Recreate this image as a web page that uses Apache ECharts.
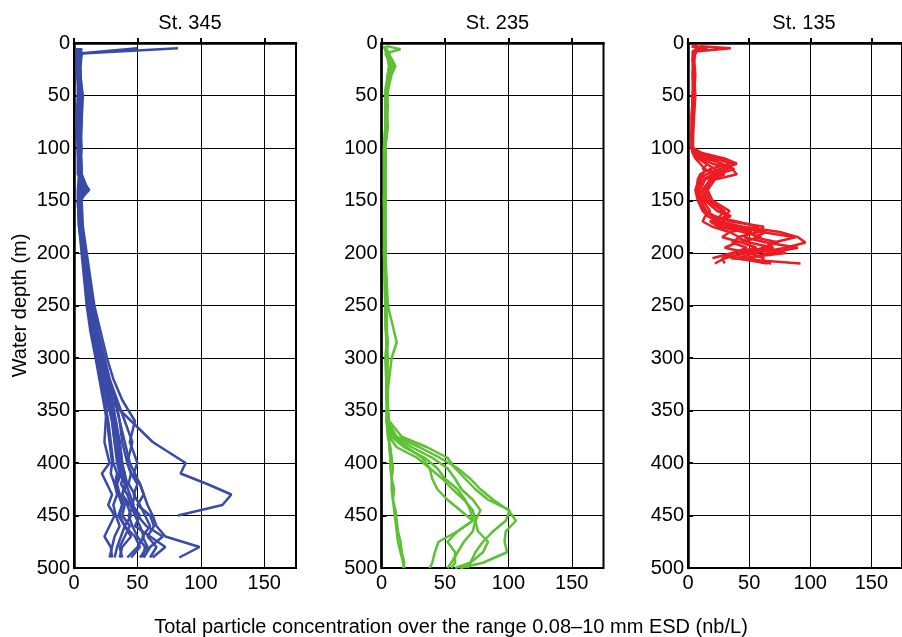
<!DOCTYPE html>
<html>
<head>
<meta charset="utf-8">
<script src="https://cdn.jsdelivr.net/npm/echarts@6/dist/echarts.min.js"></script>
<style>
  html, body { margin: 0; padding: 0; background: #fff; }
  #chart { width: 902px; height: 637px; }
</style>
</head>
<body>
<div id="chart"></div>
<script>
// station names and colours
const stations = ['St. 345', 'St. 235', 'St. 135'];
const lineColors = ['#3a4ba7', '#5cc133', '#ec1c24'];

// St. 345 depth levels (m) and profiles (nb/L)
const depth345 = [5, 10, 25, 50, 75, 100, 125, 140, 150, 175, 200, 225, 250, 275, 300, 320, 340, 360, 380, 400, 410, 420, 430, 440, 450, 460, 470, 480, 490];
const st345 = [
  [82, 6, 5, 6, 4, 5, 6, 5, 4, 6, 8, 11, 13, 16, 21, 25, 29, 33, 36, 38, 36, 40, 38, 42, 45, 40, 48, 52, 45],
  [50, 4, 4, 5, 5, 4, 5, 4, 4, 5, 7, 9, 11, 14, 18, 22, 26, 30, 32, 35, 37, 34, 36, 40, 38, 44, 40, 36, 38],
  [5, 4, 3, 4, 5, 4, 4, 6, 5, 6, 8, 10, 13, 16, 20, 24, 28, 45, 62, 88, 84, 105, 124, 117, 82],
  [4, 3, 3, 5, 4, 5, 5, 6, 4, 5, 9, 11, 14, 18, 23, 27, 32, 36, 40, 44, 48, 52, 55, 58, 62, 65, 72, 99, 83],
  [3, 3, 2, 4, 3, 3, 4, 3, 3, 4, 6, 8, 10, 13, 17, 20, 23, 26, 28, 30, 29, 32, 34, 31, 33, 36, 32, 30, 28],
  [6, 5, 4, 7, 6, 5, 6, 10, 5, 6, 9, 12, 15, 19, 24, 28, 34, 40, 46, 42, 45, 50, 47, 52, 56, 60, 54, 58, 52],
  [2, 2, 3, 3, 2, 3, 3, 12, 4, 4, 7, 9, 11, 14, 18, 21, 24, 27, 29, 31, 34, 32, 36, 38, 35, 40, 45, 38, 36],
  [4, 4, 5, 6, 5, 6, 5, 8, 6, 7, 10, 13, 16, 21, 26, 31, 38, 48, 44, 50, 47, 52, 55, 50, 60, 63, 58, 65, 60],
  [3, 4, 3, 4, 4, 3, 4, 5, 3, 4, 7, 9, 12, 15, 19, 22, 26, 25, 24, 28, 22, 26, 30, 27, 32, 28, 24, 29, 30],
  [5, 4, 4, 5, 6, 5, 6, 11, 5, 6, 8, 10, 13, 17, 22, 26, 30, 32, 36, 38, 40, 37, 42, 45, 48, 52, 55, 50, 42],
  [4, 5, 4, 6, 5, 4, 5, 6, 5, 5, 8, 11, 14, 18, 22, 26, 30, 33, 35, 37, 40, 42, 38, 44, 50, 57, 70, 60, 55],
  [3, 3, 4, 5, 3, 4, 4, 4, 4, 5, 8, 10, 12, 15, 20, 24, 28, 31, 34, 36, 38, 41, 44, 47, 43, 46, 50, 56, 54],
  [5, 6, 4, 5, 4, 5, 6, 5, 5, 6, 9, 12, 15, 19, 24, 28, 33, 36, 38, 42, 45, 43, 48, 46, 52, 48, 60, 72, 62],
  [4, 3, 4, 6, 4, 5, 5, 7, 4, 5, 8, 10, 13, 16, 20, 23, 27, 30, 32, 34, 36, 33, 35, 38, 36, 40, 37, 34, 32]
];

// St. 235
const depth235 = [3, 6, 10, 15, 22, 30, 45, 60, 80, 100, 150, 200, 250, 270, 285, 300, 330, 360, 375, 385, 395, 405, 415, 425, 435, 445, 455, 465, 475, 485, 495, 500];
const st235 = [
  [4, 15, 3, 5, 9, 6, 4, 5, 4, 3, 2, 2, 3, 4, 4, 3, 4, 5, 6, 6, 7, 7, 8, 8, 9, 10, 11, 12, 13, 15, 17, 18],
  [2, 3, 5, 8, 11, 8, 5, 4, 5, 3, 3, 3, 5, 9, 12, 8, 5, 4, 5, 7, 8, 9, 8, 10, 9, 11, 12, 13, 15, 16, 18, 17],
  [3, 4, 6, 7, 8, 6, 4, 3, 4, 3, 2, 3, 4, 4, 4, 5, 4, 5, 8, 20, 32, 38, 40, 44, 52, 62, 72, 60, 45, 42, 40, 38],
  [2, 3, 4, 6, 7, 5, 3, 3, 3, 2, 2, 3, 3, 3, 4, 4, 4, 4, 6, 12, 28, 38, 48, 56, 65, 72, 74, 72, 65, 60, 55, 52],
  [3, 3, 5, 6, 8, 6, 4, 4, 3, 3, 3, 2, 3, 4, 4, 4, 5, 5, 10, 24, 40, 52, 58, 63, 72, 78, 74, 76, 84, 80, 70, 58],
  [2, 3, 4, 5, 6, 5, 4, 3, 3, 2, 2, 3, 3, 4, 4, 4, 4, 5, 12, 30, 46, 60, 70, 78, 88, 100, 106, 98, 97, 99, 80, 62],
  [3, 4, 5, 7, 9, 7, 5, 4, 4, 3, 3, 3, 4, 4, 5, 4, 4, 6, 16, 36, 52, 58, 66, 74, 84, 101, 98, 88, 80, 74, 70, 68],
  [3, 3, 4, 5, 6, 5, 4, 3, 3, 3, 3, 3, 4, 4, 4, 4, 5, 5, 8, 18, 34, 44, 50, 60, 66, 70, 72, 60, 52, 58, 58, 55]
];

// St. 135
const depth135 = [3, 5, 8, 15, 30, 50, 70, 90, 100, 105, 110, 115, 120, 125, 130, 140, 150, 160, 165, 170, 175, 180, 185, 190, 195, 200, 205, 210];
const st135 = [
  [10, 35, 6, 5, 4, 5, 4, 4, 3, 8, 20, 38, 32, 20, 12, 8, 10, 15, 22, 35, 62, 58, 40, 50, 70, 48, 30, 22],
  [3, 15, 5, 4, 5, 6, 5, 4, 4, 12, 30, 40, 26, 15, 9, 6, 8, 12, 16, 25, 45, 75, 90, 96, 80, 55, 40, 65],
  [5, 12, 4, 4, 5, 4, 4, 3, 4, 6, 12, 20, 38, 24, 14, 10, 14, 24, 34, 28, 40, 60, 88, 70, 62, 44, 35, 92],
  [4, 10, 6, 5, 4, 4, 3, 3, 3, 4, 8, 15, 22, 30, 18, 12, 16, 28, 35, 20, 30, 52, 46, 64, 90, 66, 50, 68],
  [6, 14, 5, 5, 6, 5, 4, 4, 4, 10, 26, 34, 18, 10, 8, 7, 9, 14, 20, 40, 58, 34, 28, 44, 56, 36, 20],
  [3, 8, 4, 4, 4, 4, 4, 3, 3, 5, 10, 16, 12, 28, 20, 14, 18, 30, 26, 18, 25, 45, 60, 40, 30, 50, 62, 60],
  [5, 16, 7, 4, 4, 5, 4, 3, 4, 7, 15, 28, 36, 40, 22, 16, 20, 34, 30, 24, 36, 64, 54, 74, 60, 80, 44],
  [4, 9, 5, 4, 5, 4, 3, 3, 3, 4, 6, 10, 14, 12, 10, 8, 12, 18, 14, 12, 20, 34, 42, 36, 48, 38, 28, 30]
];

const depths = [depth345, depth235, depth135];
const profiles = [st345, st235, st135];

const font = "'Liberation Sans', Arial, Helvetica, sans-serif";
const fs = 20;
const gridLefts = [74, 381.5, 688];

const chart = echarts.init(document.getElementById('chart'));

const grids = [], xAxes = [], yAxes = [], series = [], titles = [];
gridLefts.forEach(function (left, i) {
  grids.push({ left: left, top: 43, width: 222, height: 525, show: true, borderColor: '#000', borderWidth: 2, backgroundColor: '#fff' });
  xAxes.push({
    type: 'value', gridIndex: i, min: 0, max: 175, interval: 50,
    axisLine: { show: true, lineStyle: { color: '#000', width: 2.5 } },
    axisTick: { show: true, inside: true, length: 5, lineStyle: { color: '#000', width: 2 } },
    axisLabel: { color: '#000', fontSize: fs, fontFamily: font, margin: 5, showMaxLabel: false },
    splitLine: { show: true, lineStyle: { color: '#000', width: 1 } }
  });
  yAxes.push({
    type: 'value', gridIndex: i, min: 0, max: 500, interval: 50, inverse: true,
    name: i === 0 ? 'Water depth (m)' : '', nameLocation: 'middle', nameGap: 44,
    nameTextStyle: { color: '#000', fontSize: fs, fontFamily: font },
    axisLine: { show: true, lineStyle: { color: '#000', width: 2.5 } },
    axisTick: { show: true, inside: true, length: 5, lineStyle: { color: '#000', width: 2 } },
    axisLabel: { color: '#000', fontSize: fs, fontFamily: font, margin: 4 },
    splitLine: { show: true, lineStyle: { color: '#000', width: 1 } }
  });
  titles.push({
    text: stations[i], left: left + 111, top: 8, textAlign: 'center',
    textStyle: { color: '#000', fontSize: fs, fontWeight: 'normal', fontFamily: font }
  });
  profiles[i].forEach(function (p) {
    series.push({
      type: 'line', xAxisIndex: i, yAxisIndex: i, showSymbol: false, symbol: 'none',
      lineStyle: { color: lineColors[i], width: 2.5 },
      data: p.map(function (v, k) { return [v, depths[i][k]]; })
    });
  });
});

titles.push({
  text: 'Total particle concentration over the range 0.08\u201310 mm ESD (nb/L)',
  left: 'center', top: 612,
  textStyle: { color: '#000', fontSize: fs, fontWeight: 'normal', fontFamily: font }
});

chart.setOption({
  animation: false,
  backgroundColor: '#fff',
  title: titles,
  grid: grids,
  xAxis: xAxes,
  yAxis: yAxes,
  series: series
});
</script>
</body>
</html>
